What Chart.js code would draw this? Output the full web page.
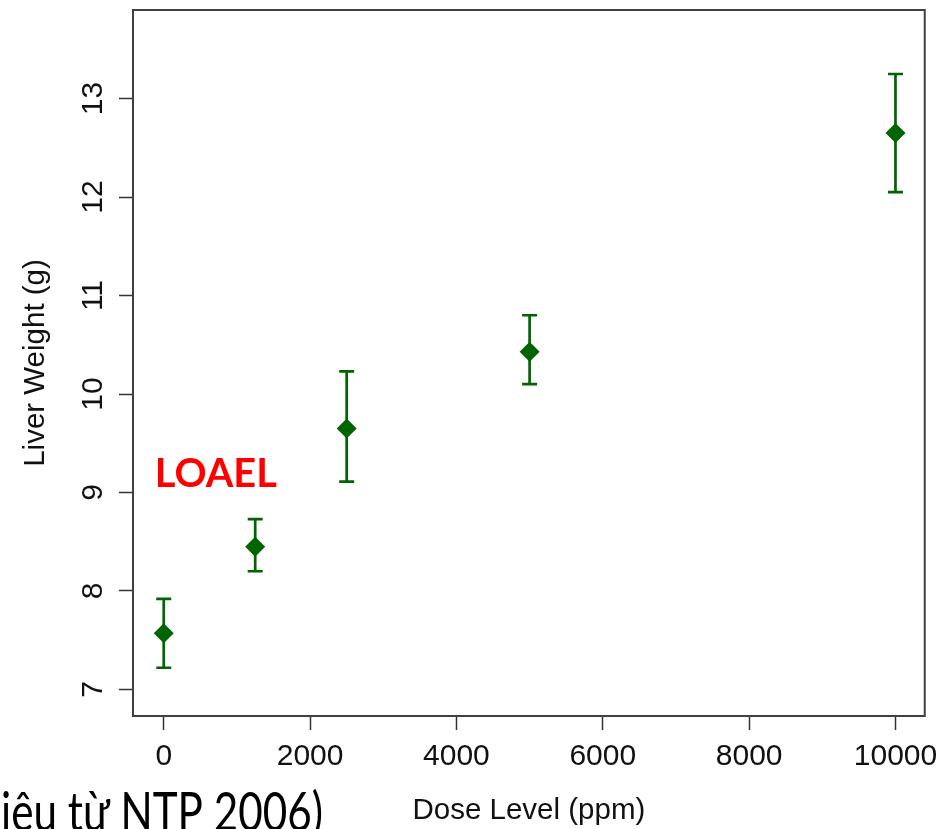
<!DOCTYPE html>
<html>
<head>
<meta charset="utf-8">
<script src="https://cdn.jsdelivr.net/npm/chart.js@4.4.1/dist/chart.umd.min.js"></script>
<style>
  html, body { margin: 0; padding: 0; background: #fff; }
</style>
</head>
<body>
<canvas id="liverChart" width="947" height="829"></canvas>
<script>
// values
const doses = [0, 1250, 2500, 5000, 10000];
const means = [7.57, 8.45, 9.65, 10.43, 12.65];
const upper = [7.92, 8.73, 10.23, 10.80, 13.25];
const lower = [7.22, 8.20, 9.11, 10.10, 12.05];
const xTicks = [0, 2000, 4000, 6000, 8000, 10000];
const yTicks = [7, 8, 9, 10, 11, 12, 13];

const green = '#006400';
const sans = '"Liberation Sans", Arial, sans-serif';

// whiskers for each point
const errorBars = {
  id: 'errorBars',
  beforeDatasetsDraw(chart) {
    const ctx = chart.ctx, xs = chart.scales.x, ys = chart.scales.y;
    ctx.save();
    ctx.strokeStyle = green;
    ctx.lineWidth = 2.7;
    doses.forEach((d, i) => {
      const px = xs.getPixelForValue(d);
      const top = ys.getPixelForValue(upper[i]);
      const bot = ys.getPixelForValue(lower[i]);
      ctx.beginPath();
      ctx.moveTo(px, top); ctx.lineTo(px, bot);
      ctx.moveTo(px - 7.5, top); ctx.lineTo(px + 7.5, top);
      ctx.moveTo(px - 7.5, bot); ctx.lineTo(px + 7.5, bot);
      ctx.stroke();
    });
    ctx.restore();
  }
};

// box, rotated y labels (R style) and the text overlays
const extras = {
  id: 'extras',
  afterDraw(chart) {
    const ctx = chart.ctx, a = chart.chartArea, xs = chart.scales.x, ys = chart.scales.y;
    ctx.save();
    ctx.strokeStyle = '#404040';
    ctx.lineWidth = 2;
    ctx.strokeRect(a.left, a.top, a.right - a.left, a.bottom - a.top);

    ctx.fillStyle = '#111';
    ctx.font = '30px ' + sans;
    ctx.textAlign = 'center';
    ctx.textBaseline = 'alphabetic';
    yTicks.forEach(v => {
      ctx.save();
      ctx.translate(102, ys.getPixelForValue(v));
      ctx.rotate(-Math.PI / 2);
      ctx.fillText(String(v), 0, 0);
      ctx.restore();
    });

    // LOAEL label
    ctx.textAlign = 'left';
    ctx.font = 'bold 40px Lato, sans-serif';
    let w = ctx.measureText('LOAEL').width;
    ctx.font = 'bold ' + (40 * 122 / w).toFixed(1) + 'px Lato, sans-serif';
    ctx.fillStyle = '#ff0000';
    ctx.fillText('LOAEL', xs.getPixelForValue(0) - 9, ys.getPixelForValue(9.06));

    // caption cut at the bottom of the slide
    ctx.font = '55px Lato, sans-serif';
    w = ctx.measureText('iệu từ NTP 2006)').width;
    ctx.fillStyle = '#000';
    ctx.translate(1, 831);
    ctx.scale(322 / w, 1);
    ctx.fillText('iệu từ NTP 2006)', 0, 0);
    ctx.restore();
  }
};

const ctx = document.getElementById('liverChart').getContext('2d');
const liverChart = new Chart(ctx, {
  type: 'scatter',
  data: {
    datasets: [{
      data: doses.map((d, i) => ({ x: d, y: means[i] })),
      pointStyle: 'rectRot',
      pointRadius: 10,
      backgroundColor: green,
      borderColor: green,
      borderWidth: 0
    }]
  },
  options: {
    responsive: false,
    animation: false,
    layout: { padding: { top: 9, right: 22, left: 0, bottom: 0 } },
    plugins: { legend: { display: false }, tooltip: { enabled: false } },
    scales: {
      x: {
        type: 'linear',
        min: -420,
        max: 10400,
        afterBuildTicks: s => { s.ticks = xTicks.map(v => ({ value: v })); },
        afterFit: s => { s.height = 113; },
        border: { display: false },
        grid: { drawOnChartArea: false, drawTicks: true, tickLength: 14, tickColor: '#333', tickWidth: 1.5 },
        ticks: {
          color: '#111', padding: 9, maxRotation: 0, autoSkip: false,
          font: { family: sans, size: 30 },
          callback: v => String(v)
        },
        title: {
          display: true, text: 'Dose Level (ppm)', color: '#111',
          font: { family: sans, size: 29.5 }, padding: { top: 0, bottom: 0 }
        }
      },
      y: {
        type: 'linear',
        min: 6.73,
        max: 13.9,
        afterBuildTicks: s => { s.ticks = yTicks.map(v => ({ value: v })); },
        afterFit: s => { s.width = 133; },
        border: { display: false },
        grid: { drawOnChartArea: false, drawTicks: true, tickLength: 14, tickColor: '#333', tickWidth: 1.5 },
        ticks: { display: false },
        title: {
          display: true, text: 'Liver Weight (g)', color: '#111',
          font: { family: sans, size: 29.5 }, padding: { top: 18, bottom: 0 }
        }
      }
    }
  },
  plugins: [errorBars, extras]
});
</script>
</body>
</html>
